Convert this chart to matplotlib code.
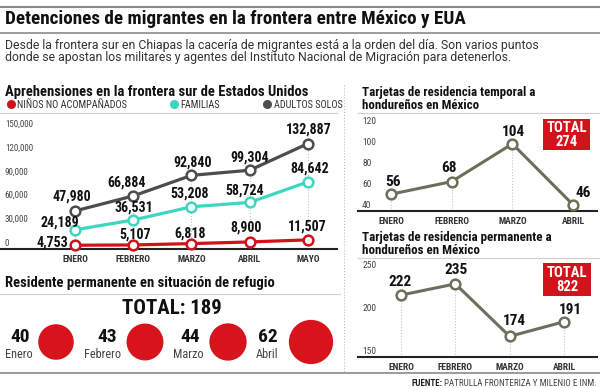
import numpy as np
import matplotlib
matplotlib.use('Agg')
import matplotlib.pyplot as plt
from matplotlib import font_manager as fm
from matplotlib.lines import Line2D
from matplotlib.patches import Rectangle

# --- data ---------------------------------------------------------------
meses5 = ['ENERO', 'FEBRERO', 'MARZO', 'ABRIL', 'MAYO']
meses4 = ['ENERO', 'FEBRERO', 'MARZO', 'ABRIL']
series_names = ['NIÑOS NO ACOMPAÑADOS', 'FAMILIAS', 'ADULTOS SOLOS']
ninos = [4753, 5107, 6818, 8900, 11507]
familias = [24189, 36531, 53208, 58724, 84642]
adultos = [47980, 66884, 92840, 99304, 132887]
left_ticks = [0, 30000, 60000, 90000, 120000, 150000]

temporal = [56, 68, 104, 46]
temporal_ticks = [40, 60, 80, 100, 120]
permanente = [222, 235, 174, 191]
permanente_ticks = [150, 200, 250]

refugio_meses = ['Enero', 'Febrero', 'Marzo', 'Abril']
refugio = [40, 43, 44, 62]

RED = '#d0121b'
TEAL = '#3fd6bf'
GRAY = '#4d4d4d'
OLIVE = '#6e6e5c'

# pick a narrow face if one is around
names = {f.name for f in fm.fontManager.ttflist}
FONT = 'Roboto'
for cand in ['Roboto Condensed', 'Liberation Sans Narrow', 'Noto Sans Condensed',
             'Open Sans Condensed', 'DejaVu Sans Condensed']:
    if cand in names:
        FONT = cand
        break
plt.rcParams['font.family'] = [FONT, 'DejaVu Sans']

W, H = 600, 388
fig = plt.figure(figsize=(6, 3.88), dpi=100)
fig.patch.set_facecolor('white')


def fx(x):
    return x / W


def fy(y):
    return 1 - y / H


def txt(x, y, s, **kw):
    kw.setdefault('va', 'center')
    return fig.text(fx(x), fy(y), s, **kw)


def hline(x0, x1, y, color='#888888', lw=1.0, ls='-'):
    fig.add_artist(Line2D([fx(x0), fx(x1)], [fy(y), fy(y)], transform=fig.transFigure,
                          color=color, lw=lw, ls=ls))


def px_axes(x0, y0, x1, y1):
    return fig.add_axes([x0 / W, 1 - y1 / H, (x1 - x0) / W, (y1 - y0) / H])


def fit(t, width):
    r = fig.canvas.get_renderer()
    w = t.get_window_extent(r).width
    t.set_fontsize(t.get_fontsize() * width / w)
    return t


# --- header -------------------------------------------------------------
hline(0, 600, 7, '#8a8a8a', 1.5)
t = txt(5, 19, 'Detenciones de migrantes en la frontera entre México y EUA',
        fontsize=14, fontweight='bold', color='#111111')
fit(t, 462)
hline(0, 600, 33, '#8a8a8a', 1.2)
sub_font = ['Roboto', 'DejaVu Sans']
s1 = txt(5, 45, 'Desde la frontera sur en Chiapas la cacería de migrantes está a la orden del día. Son varios puntos',
         fontsize=8.6, color='#333333', family=sub_font)
fit(s1, 534)
if s1.get_fontsize() > 9:
    s1.set_fontsize(9)
txt(5, 58, 'donde se apostan los militares y agentes del Instituto Nacional de Migración para detenerlos.',
    fontsize=s1.get_fontsize(), color='#333333', family=sub_font)

# --- left chart ---------------------------------------------------------
t = txt(5, 92, 'Aprehensiones en la frontera sur de Estados Unidos',
        fontsize=10, fontweight='bold', color='#111111')
fit(t, 304)
handles = [Line2D([], [], marker='o', ls='', color=c, ms=5.5) for c in (RED, TEAL, GRAY)]
fig.legend(handles, series_names, loc='center left', bbox_to_anchor=(fx(7), fy(105)),
           ncol=3, frameon=False, fontsize=7.4, handlelength=0.7, handletextpad=0.3,
           columnspacing=4.2, borderpad=0, borderaxespad=0, labelcolor='#333333')
hline(0, 337, 113, '#cfcfcf', 0.8)

ax = px_axes(0, 113, 337, 249)
x5 = np.arange(len(meses5))
step = (308 - 75) / 4
ax.set_xlim(-75 / step, (337 - 75) / step)
ax.set_ylim(0, 136 / 119 * 150000)
ax.vlines(x5, 0, adultos, colors='#c4c4c4', linestyles=':', lw=0.8, zorder=1)
offs = {
    'ad': [(-3, 14), (-7, 13), (1, 13), (0, 13), (1, 14)],
    'fa': [(-15, 7), (1, 12), (-2, 13), (-5, 12), (2, 13)],
    'ni': [(-23, 3), (2, 10), (-1, 10), (-4, 14), (-1, 13)],
}
for key, vals, c in (('ad', adultos, GRAY), ('fa', familias, TEAL), ('ni', ninos, RED)):
    ax.plot(x5, vals, color=c, lw=2.3, marker='o', ms=7, mfc='white', mec=c, mew=1.8,
            clip_on=False, zorder=3)
    for xi, v, (dx, dy) in zip(x5, vals, offs[key]):
        ax.annotate(f'{v:,}', (xi, v), xytext=(dx * 0.72, dy * 0.72), textcoords='offset points',
                    ha='center', va='center', fontsize=10, fontweight='bold', color='#111111',
                    zorder=4)
for v in left_ticks:
    ax.annotate(f'{v:,}', (0, v), xycoords=ax.get_yaxis_transform(), xytext=(3.5, 1),
                textcoords='offset points', ha='left', va='bottom', fontsize=6.5, color='#444444')
ax.set_yticks([])
ax.set_xticks(x5, meses5)
ax.tick_params(axis='x', length=0, pad=4, labelsize=6.8, labelcolor='#333333')
for lbl in ax.get_xticklabels():
    lbl.set_fontweight('semibold')
for sp in ('left', 'right', 'top'):
    ax.spines[sp].set_visible(False)
ax.spines['bottom'].set_color('#222222')
ax.spines['bottom'].set_linewidth(1.5)
ax.patch.set_visible(False)

# separator
fig.add_artist(Line2D([fx(344), fx(344)], [fy(85), fy(372)], transform=fig.transFigure,
                      color='#bdbdbd', lw=0.8, ls=':'))


# --- right charts -------------------------------------------------------
def right_chart(y_title, title, title_w, y_top, y_base, vals, ticks, px_per, x_pts,
                label_offs, box):
    t = txt(362, y_title, title, fontsize=9, fontweight='bold', color='#111111',
            va='top', linespacing=1.0)
    r = fig.canvas.get_renderer()
    first = fig.text(0, 0, title.split('\n')[0], fontsize=9, fontweight='bold')
    k = title_w / first.get_window_extent(r).width
    first.remove()
    t.set_fontsize(9 * k)
    hline(358, 600, y_top, '#cfcfcf', 0.8)
    a = px_axes(358, y_top, 597, y_base)
    st = (x_pts[-1] - x_pts[0]) / (len(x_pts) - 1)
    a.set_xlim(-(x_pts[0] - 358) / st, (597 - x_pts[0]) / st)
    a.set_ylim(ticks[0], ticks[0] + (y_base - y_top) / px_per)
    xx = np.arange(len(vals))
    a.vlines(xx, ticks[0], vals, colors='#c4c4c4', linestyles=':', lw=0.8, zorder=1)
    a.plot(xx, vals, color=OLIVE, lw=2.2, marker='o', ms=7, mfc='white', mec=OLIVE, mew=1.8,
           clip_on=False, zorder=3)
    for xi, v, (dx, dy) in zip(xx, vals, label_offs):
        a.annotate(str(v), (xi, v), xytext=(dx * 0.72, dy * 0.72), textcoords='offset points',
                   ha='center', va='center', fontsize=11, fontweight='bold', color='#111111')
    for v in ticks:
        a.annotate(str(v), (0, v), xycoords=a.get_yaxis_transform(), xytext=(3, 0.5),
                   textcoords='offset points', ha='left', va='bottom', fontsize=6.8,
                   color='#444444')
    a.set_yticks([])
    a.set_xticks(xx, meses4)
    a.tick_params(axis='x', length=0, pad=4, labelsize=6.8, labelcolor='#333333')
    for lbl in a.get_xticklabels():
        lbl.set_fontweight('semibold')
    for sp in ('left', 'right', 'top'):
        a.spines[sp].set_visible(False)
    a.spines['bottom'].set_color('#222222')
    a.spines['bottom'].set_linewidth(1.5)
    a.patch.set_visible(False)
    bx0, by0, bx1, by1 = box
    fig.add_artist(Rectangle((fx(bx0), fy(by1)), (bx1 - bx0) / W, (by1 - by0) / H,
                             transform=fig.transFigure, color='#d3131c', lw=0))
    txt((bx0 + bx1) / 2, by0 + (by1 - by0) * 0.3, 'TOTAL', ha='center', fontsize=10.5,
        fontweight='bold', color='white')
    txt((bx0 + bx1) / 2, by0 + (by1 - by0) * 0.73, str(sum(vals)), ha='center', fontsize=10.5,
        fontweight='bold', color='white')


right_chart(86, 'Tarjetas de residencia temporal a\nhondureños en México', 174, 113, 211,
            temporal, temporal_ticks, 1.05, [391, 452, 512, 573],
            [(2, 12), (-3, 14), (1, 12), (10, 12)], (543, 119, 590, 150))
right_chart(231, 'Tarjetas de residencia permanente a\nhondureños en México', 190, 258, 357,
            permanente, permanente_ticks, 0.86, [401, 455, 509, 564],
            [(-1, 13), (1, 14), (5, 15), (6, 12)], (543, 263, 591, 296))

# --- refugio ------------------------------------------------------------
t = txt(5, 283, 'Residente permanente en situación de refugio', fontsize=9.5,
        fontweight='bold', color='#111111')
fit(t, 270)
hline(0, 340, 294, '#cfcfcf', 0.8)
txt(172, 308, f'TOTAL: {sum(refugio)}', ha='center', fontsize=15, fontweight='bold',
    color='#111111')

rax = px_axes(0, 296, 340, 372)
rax.set_xlim(0, 340)
rax.set_ylim(372, 296)
rax.axis('off')
num_x = [20, 107, 190, 268]
mes_x = [5, 84, 173, 256]
circ_x = [56, 145, 228, 311]
rax.scatter(circ_x, [342] * len(refugio), s=[16.4 * v for v in refugio], color='#d7141c',
            lw=0, clip_on=False)
for nx, mx, v, m in zip(num_x, mes_x, refugio, refugio_meses):
    rax.text(nx, 337, str(v), ha='center', va='center', fontsize=14, fontweight='bold',
             color='#111111')
    rax.text(mx, 355, m, ha='left', va='center', fontsize=8.8, color='#444444')

# --- footer -------------------------------------------------------------
hline(0, 600, 373, '#8a8a8a', 1.2)
f2 = txt(597, 383, 'PATRULLA FRONTERIZA Y MILENIO E INM.', ha='right', fontsize=6.5,
         color='#444444')
w2 = f2.get_window_extent(fig.canvas.get_renderer()).width
txt(597 - w2 - 2, 383, 'FUENTE:', ha='right', fontsize=6.5, fontweight='bold', color='#222222')

fig.savefig('out.png', dpi=100, facecolor='white')
